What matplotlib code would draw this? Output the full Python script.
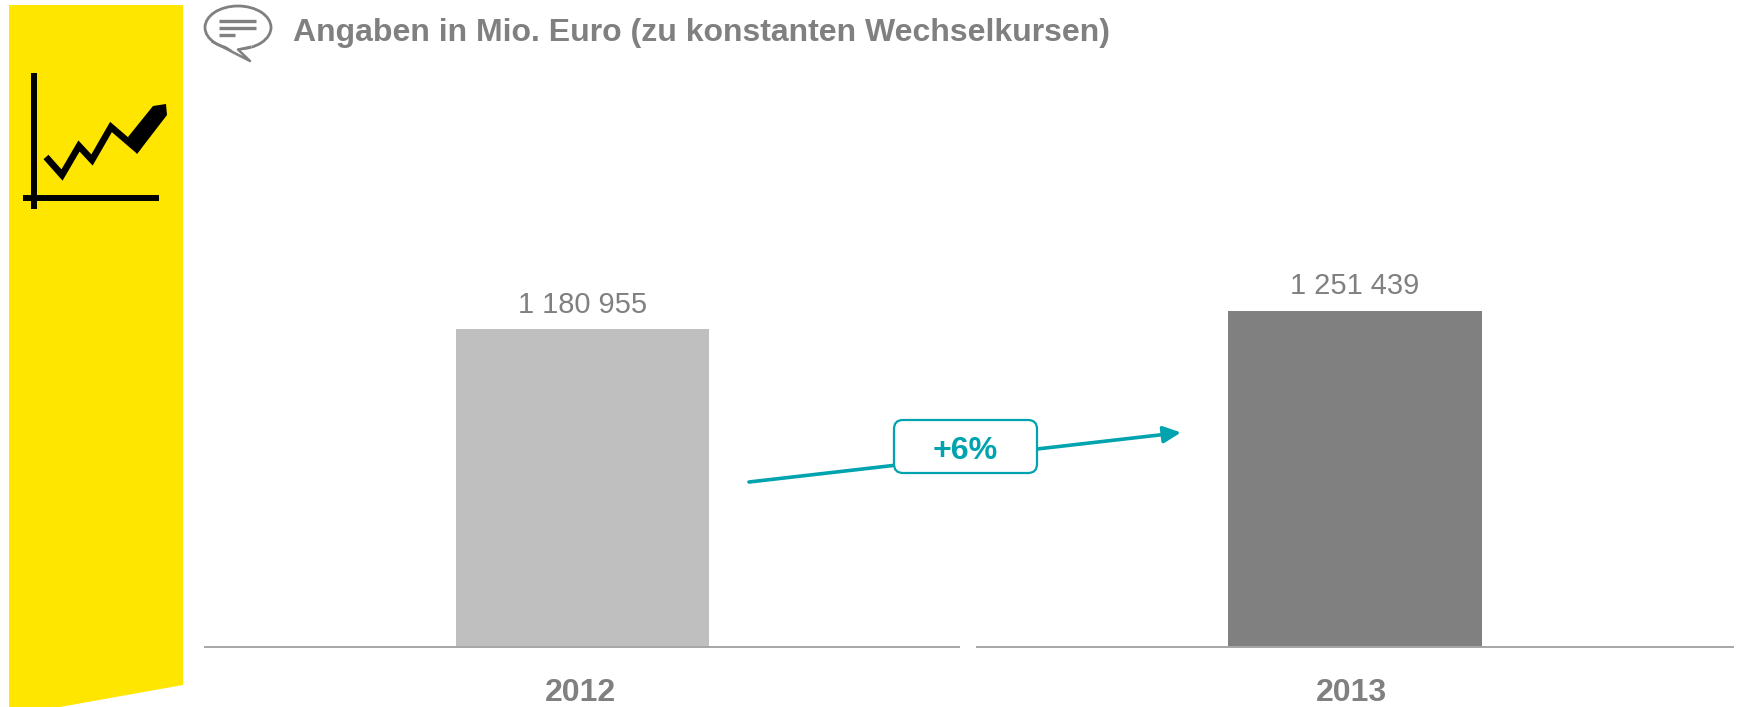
import matplotlib
matplotlib.use('Agg')
import matplotlib.pyplot as plt
from matplotlib.patches import Polygon, FancyBboxPatch, Ellipse

plt.rcParams['font.family'] = ['Liberation Sans', 'DejaVu Sans']

years = ['2012', '2013']
values = [1180955, 1251439]
value_labels = ['1 180 955', '1 251 439']
bar_colors = ['#BFBFBF', '#808080']
title = 'Angaben in Mio. Euro (zu konstanten Wechselkursen)'
change_label = '+6%'

W, H = 1739, 707
GREY = '#808080'
TEAL = '#00A3AE'
YELLOW = '#FFE600'

fig = plt.figure(figsize=(W / 100, H / 100), dpi=100, facecolor='white')


def px_axes(x0, y0, x1, y1):
    # pixel box, y measured from the top of the picture
    return fig.add_axes([x0 / W, 1 - y1 / H, (x1 - x0) / W, (y1 - y0) / H])


# overlay in pixel coordinates for the decoration
bg = px_axes(0, 0, W, H)
bg.set_xlim(0, W)
bg.set_ylim(H, 0)
bg.axis('off')

bg.add_patch(Polygon([(9, 5), (183, 5), (183, 685), (60, 707), (9, 707)], closed=True,
                     fc=YELLOW, ec='none'))

# chart icon
bg.plot([34, 34], [73, 209], color='black', lw=4.3, solid_capstyle='butt')
bg.plot([23, 159], [198, 198], color='black', lw=4.3, solid_capstyle='butt')
bg.plot([46, 62, 79, 92, 111, 139], [157, 175, 146, 160, 127, 151], color='black', lw=4.8,
        solid_joinstyle='miter', solid_capstyle='butt')
bg.add_patch(Polygon([(128, 137), (153, 106), (166, 104), (167, 115), (137, 154)], closed=True,
                     fc='black', ec='none'))

# speech bubble
bg.add_patch(Ellipse((238, 27.5), 66, 43, fc='white', ec=GREY, lw=2))
bg.add_patch(Polygon([(216, 40), (250, 61), (238, 49), (252, 47), (246, 38)], closed=True,
                     fc='white', ec='none', zorder=3))
bg.plot([213, 250, 238, 250], [42, 61, 49.5, 47], color=GREY, lw=1.8, zorder=4)
for y, x1 in zip([20.7, 27.7, 34.7], [256, 256, 235]):
    bg.plot([219, x1], [y, y], color=GREY, lw=2.4, solid_capstyle='butt', zorder=4)

bg.text(293, 32.5, title, color=GREY, fontsize=23.05, fontweight='bold', va='center', ha='left')

# one panel per year, sharing the same value scale
ymax = 1700000
boxes = [(204.5, 959), (976.5, 1732.5)]
bar_x = [0.001, 0.0005]
label_x = [-0.002, -0.004]
for i, (x0, x1) in enumerate(boxes):
    ax = px_axes(x0, 646.5 - ymax / 3725, x1, 646.5)
    ax.patch.set_alpha(0)
    ax.bar([bar_x[i]], [values[i]], width=0.335, color=bar_colors[i], zorder=2)
    ax.set_xlim(-0.5, 0.5)
    ax.set_ylim(0, ymax)
    ax.set_xticks([label_x[i]])
    ax.set_xticklabels([years[i]], fontsize=23, fontweight='bold', color=GREY)
    ax.tick_params(axis='x', length=0, pad=23)
    ax.set_yticks([])
    for s in ['top', 'left', 'right']:
        ax.spines[s].set_visible(False)
    ax.spines['bottom'].set_color('#A6A6A6')
    ax.spines['bottom'].set_linewidth(1.4)
    ax.text(bar_x[i], values[i] + 38000, value_labels[i], ha='center', va='bottom', fontsize=20.85, color=GREY)

# growth arrow and box, on top of the panels
top = px_axes(0, 0, W, H)
top.set_xlim(0, W)
top.set_ylim(H, 0)
top.axis('off')
top.patch.set_alpha(0)
top.annotate('', xy=(1181, 432.5), xytext=(749, 482),
             arrowprops=dict(arrowstyle='-|>,head_length=1.05,head_width=0.5', color=TEAL, lw=2.6,
                             shrinkA=0, shrinkB=0))
top.add_patch(FancyBboxPatch((894, 420), 143, 53, boxstyle='round,pad=0,rounding_size=9',
                             fc='white', ec=TEAL, lw=1.6, zorder=5))
top.text(965.5, 451, change_label, color=TEAL, fontsize=23.2, fontweight='bold', ha='center', va='center', zorder=6)

fig.savefig('out.png', dpi=100)
